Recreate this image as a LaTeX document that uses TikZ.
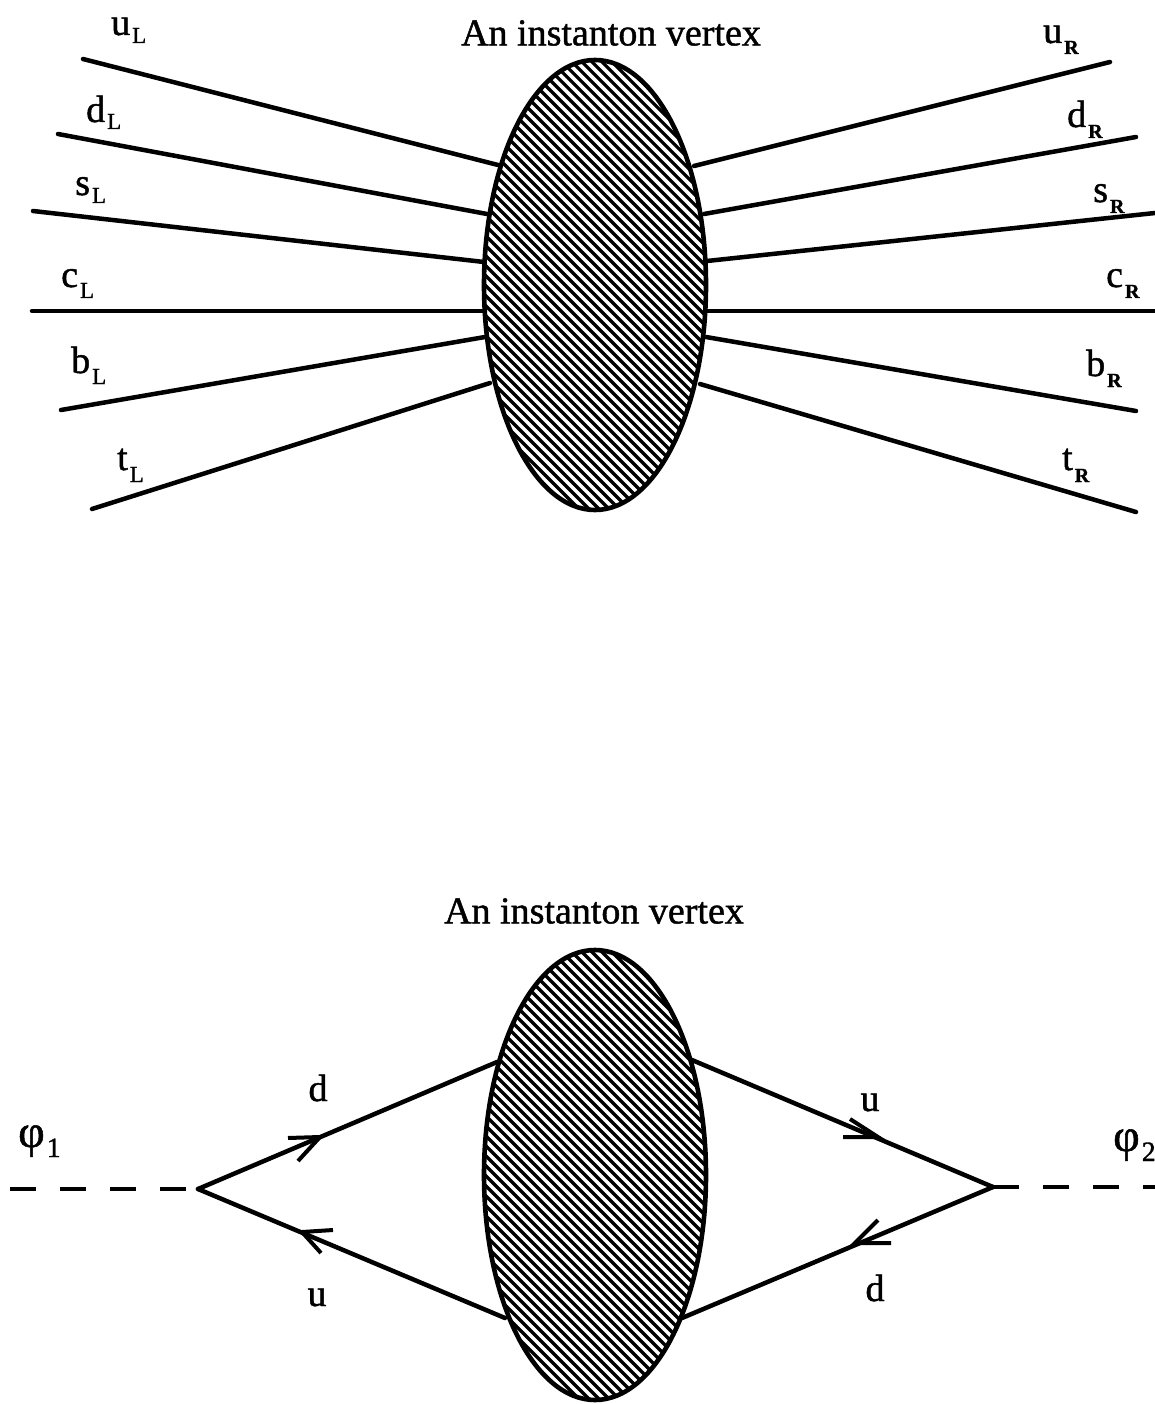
\documentclass[tikz,border=0pt]{standalone}
\usepackage{fontspec}
\setmainfont[RawFeature={embolden=1.2}]{Liberation Serif}
\usetikzlibrary{shapes.geometric}
\newcommand{\bigt}{\fontsize{38}{40}\selectfont}
% letter, subscript, drop
\newcommand{\labl}[3]{\fontsize{38}{40}\selectfont #1\kern2pt\raisebox{-#3pt}{\fontsize{23}{24}\selectfont #2}}
\newcommand{\labr}[3]{\fontsize{38}{40}\selectfont #1\kern2pt\raisebox{-#3pt}{\fontsize{20}{24}\selectfont\bfseries #2}}
\newcommand{\labphi}[2]{\fontsize{46}{50}\selectfont #1\kern2pt\raisebox{-10pt}{\fontsize{28}{28}\selectfont #2}}
\tikzset{
  x=1pt,y=-1pt,
  wire/.style={line width=4.5pt,black,line cap=round},
  barb/.style={line width=4pt,black},
  scalar/.style={line width=4.2pt,black,dash pattern=on 26pt off 24pt},
  txt/.style={inner sep=0pt,font=\bigt,text=black},
  blob/.style={ellipse,draw=black,line width=4.6pt,fill=white,inner sep=0pt,minimum width=222pt,minimum height=450pt,
    path picture={
      \foreach \k in {-1000,-990,...,1000}{
        \draw[black,line width=3.2pt] ([shift={(\k,-300)}]path picture bounding box.center) -- ++(600,600);
      }
    }}
}
\begin{document}
\begin{tikzpicture}
\useasboundingbox[fill=white] (0,0) rectangle (1155,1404);
% top diagram
\node[blob] (top) at (595,285) {};
\foreach \n/\ax/\ay/\bx/\by in {uL/83/59/498/165, dL/58/134/487/214, sL/33/211/484/262, cL/32/311/484/311, bL/61/410/485/337, tL/92/509/490/383,
 uR/1110/62/694/166, dR/1136/137/704/214, sR/1155/213/707/261, cR/1155/311/707/311, bR/1136/411/706/337, tR/1136/512/700/384}{
  \coordinate (\n o) at (\ax,\ay);
  \coordinate (\n i) at (\bx,\by);
  \draw[wire] (\n o) -- (\n i);
}
\node[txt] (ttop) at (611,33) {An instanton vertex};
\node[txt,anchor=base west] (luL) at (111,35) {\labl{u}{L}{8}};
\node[txt,anchor=base west] (ldL) at (86,122) {\labl{d}{L}{7}};
\node[txt,anchor=base west] (lsL) at (75,195) {\labl{s}{L}{8}};
\node[txt,anchor=base west] (lcL) at (61,287) {\labl{c}{L}{11}};
\node[txt,anchor=base west] (lbL) at (71,373) {\labl{b}{L}{11}};
\node[txt,anchor=base west] (ltL) at (117,470) {\labl{t}{L}{12}};
\node[txt,anchor=base west] (luR) at (1043,43) {\labr{u}{R}{11}};
\node[txt,anchor=base west] (ldR) at (1067,127) {\labr{d}{R}{11}};
\node[txt,anchor=base west] (lsR) at (1093,202) {\labr{s}{R}{11}};
\node[txt,anchor=base west] (lcR) at (1106,287) {\labr{c}{R}{11}};
\node[txt,anchor=base west] (lbR) at (1086,376) {\labr{b}{R}{11}};
\node[txt,anchor=base west] (ltR) at (1062,470) {\labr{t}{R}{12}};
% bottom diagram
\node[blob] (bot) at (595,1175) {};
\node[txt] (tbot) at (594,911) {An instanton vertex};
\coordinate (vl) at (198,1189);
\coordinate (vr) at (993,1187);
\coordinate (ul) at (497,1062);
\coordinate (ll) at (505,1318);
\coordinate (ur) at (692,1060);
\coordinate (lr) at (682,1318);
\coordinate (sl) at (10,1189);
\coordinate (sr) at (1155,1187);
\draw[wire] (vl) -- (ul);
\draw[wire] (vl) -- (ll);
\draw[wire] (vr) -- (ur);
\draw[wire] (vr) -- (lr);
\draw[scalar] (sl) -- (vl);
\draw[scalar] (vr) -- (sr);
\coordinate (a1) at (320,1137);
\draw[barb] (288,1138) -- (a1) -- (298,1161);
\coordinate (a2) at (302,1232);
\draw[barb] (333,1230) -- (a2) -- (321,1253);
\coordinate (a3) at (878,1137);
\draw[barb] (843,1137) -- (a3) -- (850,1119);
\coordinate (a4) at (855,1243);
\draw[barb] (891,1243) -- (a4) -- (878,1220);
\node[txt,anchor=base] (bd1) at (318,1101) {d};
\node[txt,anchor=base] (bu1) at (317,1306) {u};
\node[txt,anchor=base] (bu2) at (870,1111) {u};
\node[txt,anchor=base] (bd2) at (875,1301) {d};
\node[txt,anchor=base west] (p1) at (18,1147) {\labphi{φ}{1}};
\node[txt,anchor=base west] (p2) at (1113,1151) {\labphi{φ}{2}};
\end{tikzpicture}
\end{document}
